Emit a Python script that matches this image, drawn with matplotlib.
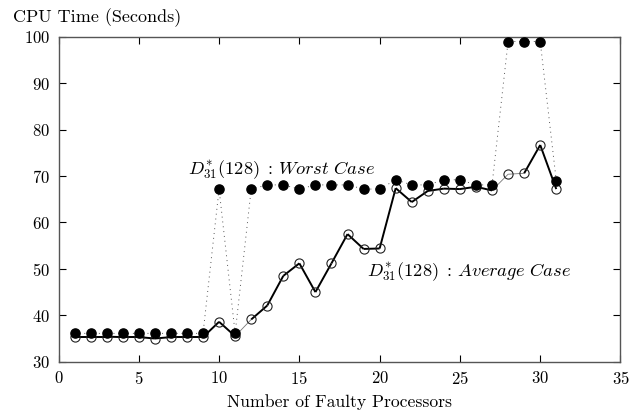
import matplotlib
matplotlib.use("Agg")
import matplotlib.pyplot as plt
from matplotlib.collections import LineCollection

plt.rcParams['font.family'] = ['cmr10', 'DejaVu Serif']
plt.rcParams['mathtext.fontset'] = 'cm'
plt.rcParams['axes.formatter.use_mathtext'] = True

faults = list(range(1, 32))
worst = [36.1, 36.1, 36.1, 36.1, 36.1, 36.1, 36.1, 36.1, 36.1, 67.2,
         36.1, 67.2, 68.1, 68.1, 67.2, 68.1, 68.1, 68.1, 67.2, 67.2,
         69.2, 68.1, 68.1, 69.2, 69.2, 68.1, 68.1, 99.0, 99.0, 99.0, 69.0]
average = [35.4, 35.4, 35.4, 35.3, 35.3, 35.0, 35.3, 35.3, 35.3, 38.6,
           35.5, 39.1, 42.1, 48.5, 51.2, 45.0, 51.2, 57.5, 54.3, 54.4,
           67.4, 64.4, 66.8, 67.3, 67.2, 67.7, 66.9, 70.4, 70.6, 76.7, 67.2]
xticks = [0, 5, 10, 15, 20, 25, 30, 35]
yticks = [30, 40, 50, 60, 70, 80, 90, 100]
# segments of the average curve that are drawn thin (by starting index)
thin_segments = [10, 26, 27]

fig = plt.figure(figsize=(6.43, 4.17), dpi=100)
ax = fig.add_axes([0.091, 0.1326, 0.874, 0.779])

ax.plot(faults, worst, linestyle=(0, (1, 4)), color='#555555', linewidth=0.7,
        marker='o', markersize=6.6, markerfacecolor='black',
        markeredgecolor='black', zorder=3)

segs = [[(faults[i], average[i]), (faults[i + 1], average[i + 1])]
        for i in range(len(faults) - 1)]
widths = [0.6 if i in thin_segments else 1.4 for i in range(len(segs))]
colors = ['#777777' if i in thin_segments else 'black' for i in range(len(segs))]
ax.add_collection(LineCollection(segs, linewidths=widths, colors=colors, zorder=2))
ax.plot(faults, average, linestyle='none',
        marker='o', markersize=6.6, markerfacecolor='none',
        markeredgecolor='#222222', markeredgewidth=0.8, zorder=2)

ax.set_xlim(0, 35)
ax.set_ylim(30, 100)
ax.set_xticks(xticks)
ax.set_yticks(yticks)
ax.tick_params(direction='in', length=5, width=0.8, top=True, right=True,
               labelsize=12, pad=6, colors='black')
for s in ax.spines.values():
    s.set_color('#555555')
    s.set_linewidth(1.0)

ax.set_xlabel('Number of Faulty Processors', fontsize=12.7, labelpad=5)
fig.text(0.02, 0.957, 'CPU Time (Seconds)', fontsize=13, ha='left', va='center')

ax.text(8.05, 71.3, r'$D^{*}_{31}(128)\;:\,Worst\ Case$', fontsize=13.3, ha='left', va='center')
ax.text(19.2, 49.3, r'$D^{*}_{31}(128)\;:\,Average\ Case$', fontsize=13.3, ha='left', va='center')

fig.savefig('out.png', dpi=100)
